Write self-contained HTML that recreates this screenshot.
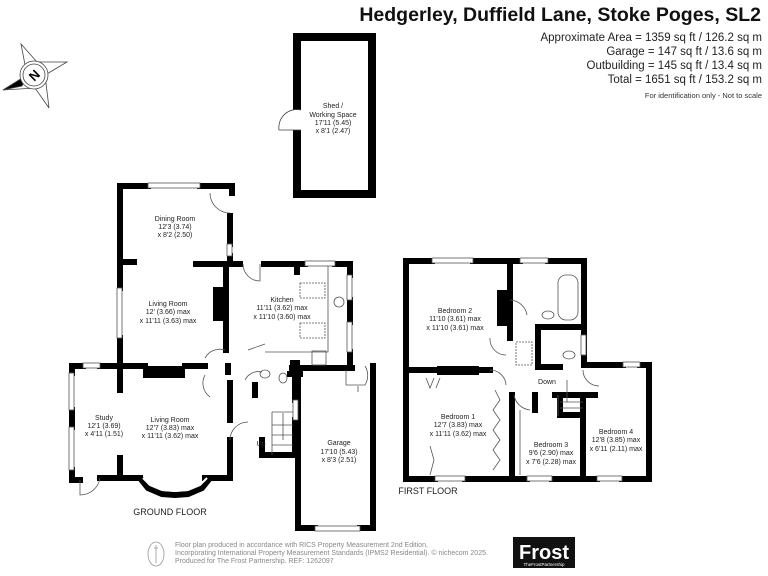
<!DOCTYPE html>
<html><head><meta charset="utf-8"><style>
html,body{margin:0;padding:0;background:#fff;}
svg{display:block;}
text{font-family:"Liberation Sans",sans-serif;}
</style></head><body>
<svg width="768" height="576" viewBox="0 0 768 576" xmlns="http://www.w3.org/2000/svg">
<rect width="768" height="576" fill="#fff"/>
<!-- header -->
<text x="761" y="21" text-anchor="end" font-size="19.5" font-weight="bold" fill="#111">Hedgerley, Duffield Lane, Stoke Poges,  SL2</text>
<g font-size="11.5" fill="#222" text-anchor="end">
<text x="762" y="41">Approximate Area = 1359 sq ft / 126.2 sq m</text>
<text x="762" y="55">Garage = 147 sq ft / 13.6 sq m</text>
<text x="762" y="69">Outbuilding = 145 sq ft / 13.4 sq m</text>
<text x="762" y="83">Total = 1651 sq ft / 153.2 sq m</text>
</g>
<text x="762" y="98" text-anchor="end" font-size="7.5" fill="#333">For identification only - Not to scale</text>

<!-- compass -->
<g stroke="#444" stroke-width="0.8" fill="#fff">
<polygon points="21,44 37,62 67,62 45,75 49,108 35,88 3,90 27,75"/>
<polygon points="3,90 27,75 22,86" fill="#000"/>
<circle cx="34" cy="75" r="14"/>
<circle cx="34" cy="75" r="11"/>
</g>
<text x="34" y="80" text-anchor="middle" font-size="13" font-weight="bold" transform="rotate(-45 34 75)">N</text>

<g fill="none" stroke="#000" stroke-linecap="square">
<rect x="297" y="37" width="75" height="157" stroke-width="8"/>
</g>
<rect x="290" y="110" width="12" height="20" fill="#fff"/>
<path d="M301 110 A18 18 0 0 0 279 130 L301 130" fill="none" stroke="#444" stroke-width="0.8"/>
<g font-size="7" text-anchor="middle" fill="#222">
<text x="333" y="108">Shed /</text><text x="333" y="117">Working Space</text><text x="333" y="125">17'11 (5.45)</text><text x="333" y="133">x 8'1 (2.47)</text>
</g>

<!-- GROUND FLOOR walls -->
<g stroke="#000" stroke-width="6" fill="none" stroke-linecap="square">
<path d="M120 186 H148 M200 186 H232 V193"/>
<path d="M230 216 V244 M230 256 V262"/>
<path d="M120 186 V288 M120 338 V366"/>
<path d="M120 262 H134"/>
<path d="M196 264 H240 M226 264 V350"/>
<path d="M264 264 H305 M335 264 H350 V275 M350 300 V322 M350 352 V368"/>
<path d="M297 264 V272"/>
<path d="M292 368 H352"/>
<path d="M72 366 H83 M100 366 H145 M185 366 H205 M120 366 V390"/>
<path d="M72 366 V373 M72 410 V427 M72 470 V480 H80 M100 478 H140 M120 458 V478"/>
<path d="M205 478 H230 V440"/>
<path d="M230 383 V420"/>
<path d="M228 366 V372"/>
<path d="M262 440 V455 H295 M255 385 V395 M295 380 V400 M295 420 V455"/>
<path d="M298 370 V528 H315 M360 528 H373 V366"/>
<path d="M290 374 H300"/>
</g>
<rect x="143" y="366" width="42" height="12" fill="#000"/>
<rect x="213" y="287" width="10" height="34" fill="#000"/>
<rect x="290" y="360" width="10" height="10" fill="#000"/>
<g fill="#fff" stroke="#555" stroke-width="0.8">
<rect x="148" y="183" width="52" height="5"/>
<rect x="117" y="288" width="5" height="50"/>
<rect x="305" y="261" width="30" height="5"/>
<rect x="347" y="275" width="5" height="25"/>
<rect x="347" y="322" width="5" height="30"/>
<rect x="83" y="363" width="17" height="5"/>
<rect x="69" y="373" width="5" height="37"/>
<rect x="69" y="427" width="5" height="43"/>
<rect x="227" y="244" width="5" height="12"/>
<rect x="315" y="526" width="45" height="5"/>
<rect x="293" y="400" width="5" height="20"/>
</g>
<path d="M140 478 L148 488 L162 494 L175 495 L188 494 L202 488 L210 478" fill="none" stroke="#000" stroke-width="6"/>
<path d="M143 478 L150 485 L162 490 L175 491 L188 490 L200 485 L207 478" fill="none" stroke="#fff" stroke-width="2"/>
<g fill="none" stroke="#555" stroke-width="0.8">
<path d="M210 193 A20 20 0 0 0 230 213"/>
<path d="M243 264 A17 17 0 0 0 260 281 L260 264"/>
<path d="M225 350 A17 17 0 0 0 205 358 M205 375 A17 17 0 0 0 210 397"/>
<path d="M248 350 L265 344 M245 380 A15 15 0 0 1 262 372"/>
<path d="M80 480 V495 A20 20 0 0 0 100 478"/>
<path d="M230 440 A18 18 0 0 1 248 422"/>
<path d="M346 370 V385 H365 A18 18 0 0 0 365 366"/>
<path d="M358 386 V392"/>
<path d="M272 412 H293 M272 412 V455 M272 425 H293 M272 435 H293 M272 445 H293 M283 413 V440"/>
<rect x="300" y="283" width="25" height="15" stroke-dasharray="2 1"/>
<rect x="300" y="323" width="25" height="15" stroke-dasharray="2 1"/>
<path d="M328 266 V352 H265"/>
<rect x="312" y="351" width="14" height="14"/>
<circle cx="339" cy="302" r="5"/>
<ellipse cx="265" cy="374" rx="5" ry="4"/>
<ellipse cx="283" cy="378" rx="4" ry="5"/>
</g>
<g font-size="7" text-anchor="middle" fill="#222">
<text x="175" y="221">Dining Room</text><text x="175" y="229">12'3 (3.74)</text><text x="175" y="237">x 8'2 (2.50)</text>
<text x="168" y="306">Living Room</text><text x="168" y="314">12' (3.66) max</text><text x="168" y="323">x 11'11 (3.63) max</text>
<text x="282" y="302">Kitchen</text><text x="282" y="310">11'11 (3.62) max</text><text x="282" y="319">x 11'10 (3.60) max</text>
<text x="104" y="420">Study</text><text x="104" y="428">12'1 (3.69)</text><text x="104" y="436">x 4'11 (1.51)</text>
<text x="170" y="422">Living Room</text><text x="170" y="430">12'7 (3.83) max</text><text x="170" y="438">x 11'11 (3.62) max</text>
<text x="339" y="445">Garage</text><text x="339" y="454">17'10 (5.43)</text><text x="339" y="462">x 8'3 (2.51)</text>
<text x="261" y="446">Up</text>
<text x="170" y="515" font-size="9">GROUND FLOOR</text>
</g>

<!-- FIRST FLOOR -->
<g stroke="#000" stroke-width="6" fill="none" stroke-linecap="square">
<path d="M406 261 H432 M473 261 H520 M548 261 H584 V365 H623 M640 365 H649 V479 H622 M597 479 H552 M527 479 H465 M435 479 H406 V261"/>
<path d="M510 261 V338"/>
<path d="M406 370 H490"/>
<path d="M512 395 V479"/>
<path d="M583 395 V479"/>
<path d="M538 327 H584 M538 327 V365"/>
<path d="M538 367 H560 M555 395 H595 M560 395 V415 H583"/>
<path d="M535 395 V410"/>
</g>
<rect x="437" y="366" width="42" height="9" fill="#000"/>
<rect x="497" y="290" width="13" height="36" fill="#000"/>
<g fill="#fff" stroke="#555" stroke-width="0.8">
<rect x="432" y="258" width="41" height="5"/>
<rect x="520" y="258" width="28" height="5"/>
<rect x="623" y="362" width="17" height="5"/>
<rect x="435" y="476" width="30" height="5"/>
<rect x="527" y="476" width="25" height="5"/>
<rect x="597" y="476" width="25" height="5"/>
<rect x="581" y="335" width="5" height="20"/>
</g>
<g fill="none" stroke="#555" stroke-width="0.8">
<rect x="558" y="275" width="20" height="45" rx="8"/>
<ellipse cx="548" cy="315" rx="6" ry="4"/>
<ellipse cx="569" cy="355" rx="6" ry="4"/>
<rect x="516" y="342" width="16" height="23" stroke-dasharray="2 1"/>
<path d="M510 300 A18 18 0 0 1 527 315 M490 338 A16 16 0 0 0 506 355 M490 370 A16 16 0 0 1 506 385"/>
<path d="M514 395 A18 18 0 0 0 530 410 M583 370 A16 16 0 0 0 599 386"/>
<path d="M558 395 V416 M560 402 H583 M560 408 H583 M567 380 L567 402"/>
<path d="M426 378 L430 388 L434 378 M440 378 L436 388 M495 390 L500 400 L493 410 L500 420 L493 430 L500 440 L493 450 L500 460 L493 470 M430 446 L434 460 L430 475"/>
<path d="M520 410 V475"/>
</g>
<g font-size="7" text-anchor="middle" fill="#222">
<text x="455" y="313">Bedroom 2</text><text x="455" y="321">11'10 (3.61) max</text><text x="455" y="330">x 11'10 (3.61) max</text>
<text x="458" y="419">Bedroom 1</text><text x="458" y="427">12'7 (3.83) max</text><text x="458" y="436">x 11'11 (3.62) max</text>
<text x="551" y="447">Bedroom 3</text><text x="551" y="455">9'6 (2.90) max</text><text x="551" y="464">x 7'6 (2.28) max</text>
<text x="616" y="434">Bedroom 4</text><text x="616" y="442">12'8 (3.85) max</text><text x="616" y="451">x 6'11 (2.11) max</text>
<text x="547" y="384">Down</text>
<text x="428" y="494" font-size="9">FIRST FLOOR</text>
</g>

<!-- footer -->
<ellipse cx="156" cy="554" rx="8" ry="12" fill="none" stroke="#999" stroke-width="0.8"/>
<path d="M156 545 V563 M154 548 H158" stroke="#999" stroke-width="0.8"/>
<g font-size="7" fill="#888">
<text x="175" y="547">Floor plan produced in accordance with RICS Property Measurement 2nd Edition,</text>
<text x="175" y="555">Incorporating International Property Measurement Standards (IPMS2 Residential).   © nichecom 2025.</text>
<text x="175" y="563">Produced for The Frost Partnership.   REF:  1262097</text>
</g>
<rect x="513" y="537" width="62" height="31" fill="#111"/>
<text x="544" y="559" text-anchor="middle" font-size="20" font-weight="bold" fill="#fff">Frost</text>
<text x="544" y="566" text-anchor="middle" font-size="4.5" fill="#fff">TheFrostPartnership</text>
</svg>
</body></html>
